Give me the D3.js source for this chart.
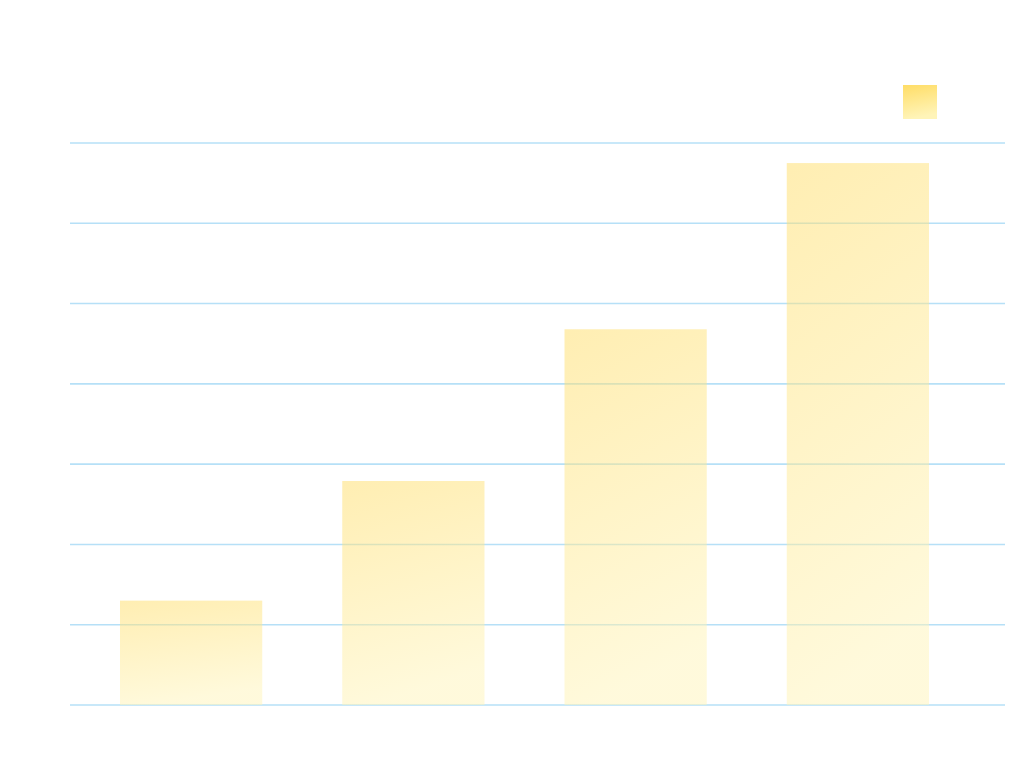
<!DOCTYPE html>
<html>
<head>
<meta charset="utf-8">
<script src="https://cdn.jsdelivr.net/npm/d3@7"></script>
<style>
  html, body { margin: 0; padding: 0; background: #ffffff; }
  svg { display: block; }
</style>
</head>
<body>
<svg id="chart" width="1014" height="764"></svg>
<script>
const categories = ["A", "B", "C", "D"];
const values = [13, 27.9, 46.8, 67.5];
const yTicks = [0, 10, 20, 30, 40, 50, 60, 70];

const svg = d3.select("#chart");

const defs = svg.append("defs");
const grad = defs.append("linearGradient")
  .attr("id", "barGrad")
  .attr("x1", "0").attr("y1", "0")
  .attr("x2", "0.2").attr("y2", "1");
grad.append("stop").attr("offset", "0%").attr("stop-color", "#FFDD66");
grad.append("stop").attr("offset", "100%").attr("stop-color", "#FFF4B8");

const y = d3.scaleLinear().domain([0, 70]).range([705, 143]);
const x = d3.scaleBand().domain(categories).range([120, 929])
  .paddingInner(0.36).paddingOuter(0);

// gridlines
svg.append("g")
  .selectAll("line")
  .data(yTicks)
  .join("line")
  .attr("x1", 70).attr("x2", 1005)
  .attr("y1", d => y(d))
  .attr("y2", d => y(d))
  .attr("stroke", "#B6E0F7")
  .attr("stroke-width", 1.6);

// bars
svg.append("g")
  .selectAll("rect")
  .data(values)
  .join("rect")
  .attr("x", (d, i) => x(categories[i]))
  .attr("width", x.bandwidth())
  .attr("y", d => y(d))
  .attr("height", d => y(0) - y(d))
  .attr("fill", "url(#barGrad)")
  .attr("fill-opacity", 0.5);

// legend swatch
svg.append("rect")
  .attr("x", 903).attr("y", 85)
  .attr("width", 34).attr("height", 34)
  .attr("fill", "url(#barGrad)");
</script>
</body>
</html>
